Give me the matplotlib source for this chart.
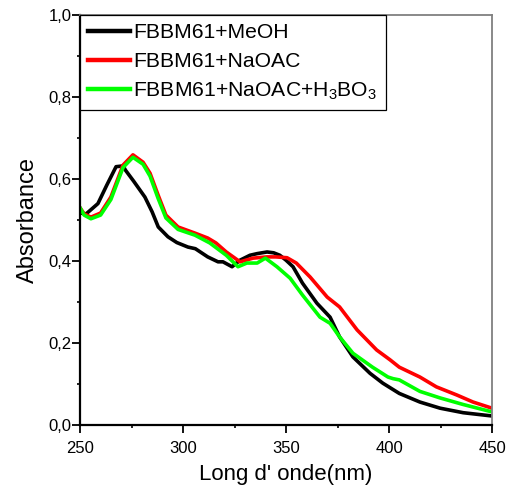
import matplotlib
matplotlib.use("Agg")
import matplotlib.pyplot as plt
from matplotlib.ticker import MultipleLocator, FixedLocator, FuncFormatter

plt.rcParams['font.family'] = ['Liberation Sans', 'DejaVu Sans']
plt.rcParams['mathtext.fontset'] = 'custom'
plt.rcParams['mathtext.rm'] = 'Liberation Sans'
plt.rcParams['mathtext.it'] = 'Liberation Sans'

# ---- data ----
meoh_x = [250, 253, 258.7, 263, 267.5, 271, 272, 276, 281.5, 285, 288, 292.7, 297, 302.4, 306, 312,
          317, 319.4, 323.8, 327.7, 332.5, 336, 340.8, 344, 347, 350, 353.4, 358, 365, 371.4, 376,
          382.5, 390.8, 397, 405, 415, 424.8, 436, 450]
meoh_y = [0.517, 0.515, 0.54, 0.585, 0.63, 0.632, 0.622, 0.595, 0.556, 0.52, 0.483, 0.459, 0.445, 0.434,
          0.43, 0.41, 0.398, 0.398, 0.386, 0.402, 0.414, 0.418, 0.422, 0.42, 0.414, 0.402, 0.386,
          0.346, 0.297, 0.263, 0.215, 0.166, 0.126, 0.102, 0.077, 0.056, 0.041, 0.03, 0.022]

naoac_x = [250, 252, 255.3, 260, 265, 270.9, 275.7, 280.6, 284, 287.9, 291.7, 297.6, 305.8, 312, 316,
           321, 327.7, 334, 340.8, 345, 350.5, 355, 361.7, 370, 376, 384.5, 394, 400.5, 405, 415,
           423, 433, 440.8, 450]
naoac_y = [0.53, 0.515, 0.507, 0.517, 0.556, 0.634, 0.659, 0.641, 0.614, 0.561, 0.512, 0.483, 0.468,
           0.456, 0.444, 0.422, 0.398, 0.407, 0.41, 0.41, 0.408, 0.395, 0.361, 0.312, 0.288, 0.232,
           0.183, 0.159, 0.141, 0.117, 0.093, 0.073, 0.056, 0.041]

boric_x = [250, 252, 255.3, 260, 265, 270.9, 275.7, 280.6, 284, 287.9, 291.7, 297.6, 305.8, 313,
           321, 326.7, 331, 336, 340, 345.6, 352, 358, 366.5, 371.4, 376, 382.5, 392, 399.5, 402,
           405, 415, 424.8, 436, 450]
boric_y = [0.53, 0.512, 0.503, 0.512, 0.55, 0.628, 0.653, 0.636, 0.607, 0.553, 0.505, 0.477, 0.463,
           0.444, 0.414, 0.386, 0.395, 0.395, 0.407, 0.386, 0.358, 0.317, 0.263, 0.248, 0.215, 0.175,
           0.141, 0.117, 0.113, 0.11, 0.082, 0.066, 0.05, 0.032]

labels = ['FBBM61+MeOH', 'FBBM61+NaOAC', r'FBBM61+NaOAC+H$_3$BO$_3$']
colors = ['black', '#ff0000', '#00ff00']

x_ticks = [250, 300, 350, 400, 450]
y_ticks = [0.0, 0.2, 0.4, 0.6, 0.8, 1.0]

# ---- figure ----
fig = plt.figure(figsize=(5.07, 4.96), dpi=100)
ax = fig.add_axes([80/507, 71/496, 412/507, 410/496])

for xs, ys, lab, c in zip([meoh_x, naoac_x, boric_x], [meoh_y, naoac_y, boric_y], labels, colors):
    ax.plot(xs, ys, color=c, lw=2.6, label=lab, solid_joinstyle='round')

ax.set_xlim(250, 450)
ax.set_ylim(0, 1.0)
ax.xaxis.set_major_locator(FixedLocator(x_ticks))
ax.xaxis.set_minor_locator(MultipleLocator(25))
ax.yaxis.set_major_locator(FixedLocator(y_ticks))
ax.yaxis.set_minor_locator(MultipleLocator(0.1))
ax.yaxis.set_major_formatter(FuncFormatter(lambda v, p: f"{v:.1f}".replace('.', ',')))
ax.xaxis.set_major_formatter(FuncFormatter(lambda v, p: f"{int(v)}"))

ax.tick_params(axis='both', which='major', direction='out', length=5.5, width=1.3,
               labelsize=12)
ax.tick_params(axis='both', which='minor', direction='out', length=2.5, width=1.2)
ax.tick_params(axis='y', which='major', pad=0.5)
ax.tick_params(axis='x', which='major', pad=6)

for s in ['left', 'bottom']:
    ax.spines[s].set_linewidth(1.6)
    ax.spines[s].set_color('black')
for s in ['top', 'right']:
    ax.spines[s].set_linewidth(1.3)
    ax.spines[s].set_color('#808080')

ax.set_xlabel("Long d' onde(nm)", fontsize=16, labelpad=6)
ax.set_ylabel("Absorbance", fontsize=17, labelpad=7)

leg = ax.legend(loc='upper left', bbox_to_anchor=(0, 1), borderaxespad=0, fancybox=False,
                edgecolor='black', framealpha=1, fontsize=15.2, handlelength=1.95,
                handletextpad=0.18, labelspacing=0.45, borderpad=0.4)
leg.get_frame().set_linewidth(0.9)
for line in leg.get_lines():
    line.set_linewidth(3.2)

fig.savefig("out.png", dpi=100)
